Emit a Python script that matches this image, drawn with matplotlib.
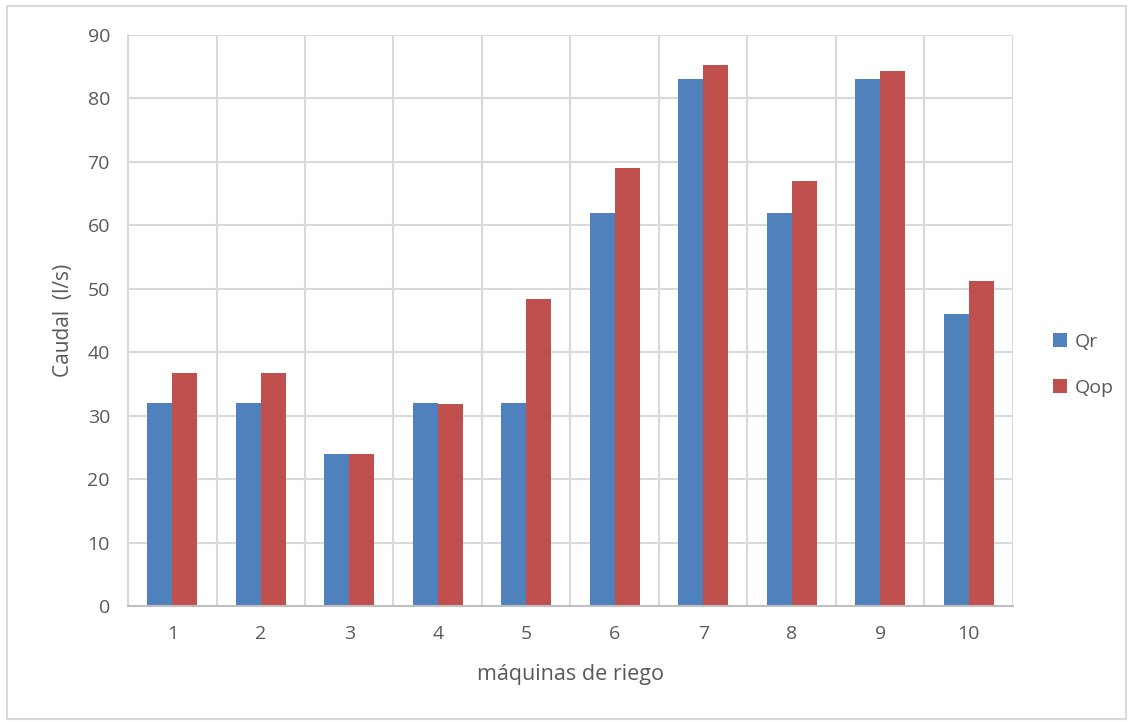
import numpy as np
import matplotlib.pyplot as plt
from matplotlib.patches import Rectangle

plt.rcParams['font.family'] = ['Open Sans', 'DejaVu Sans']

maquinas = ['1', '2', '3', '4', '5', '6', '7', '8', '9', '10']
qr = [32, 32, 24, 32, 32, 62, 83, 62, 83, 46]
qop = [36.7, 36.8, 24, 31.9, 48.4, 69, 85.2, 67, 84.3, 51.3]

blue = '#4F81BD'
red = '#C0504D'
grid_c = '#D9D9D9'
text_c = '#595959'

fig = plt.figure(figsize=(11.33, 7.22), dpi=100)
ax = fig.add_axes([0.113, 0.1607, 0.781, 0.7908])

x = np.arange(len(maquinas))
w = 0.283
ax.bar(x - w / 2, qr, w, color=blue, label='Qr', zorder=3)
ax.bar(x + w / 2, qop, w, color=red, label='Qop', zorder=3)

ax.set_xlim(-0.5, len(maquinas) - 0.5)
ax.set_ylim(0, 90)
ax.set_yticks(np.arange(0, 91, 10))
ax.set_xticks(x)
ax.set_xticklabels(maquinas)

# gridlines: horizontal at ticks, vertical at category boundaries
for yv in np.arange(10, 91, 10):
    ax.axhline(yv, color=grid_c, lw=1.5, zorder=1)
for xv in np.arange(0.5, len(maquinas) - 0.5, 1):
    ax.axvline(xv, color=grid_c, lw=1.5, zorder=1)
ax.axvline(len(maquinas) - 0.5, color=grid_c, lw=1.5, zorder=1)

for s in ['top', 'right']:
    ax.spines[s].set_visible(False)
ax.spines['left'].set_color(grid_c)
ax.spines['left'].set_linewidth(1.5)
ax.spines['bottom'].set_color('#BFBFBF')
ax.spines['bottom'].set_linewidth(1.5)
ax.spines['bottom'].set_zorder(4)

ax.tick_params(axis='both', length=0, labelsize=14, colors=text_c)
ax.tick_params(axis='x', pad=14)
ax.tick_params(axis='y', pad=13)

ax.set_xlabel('máquinas de riego', fontsize=15.5, color=text_c, labelpad=15)
ax.set_ylabel('Caudal  (l/s)', fontsize=15, color=text_c, labelpad=10)

ax.legend(loc='center left', bbox_to_anchor=(1.025, 0.422), frameon=False,
          fontsize=14, labelcolor=text_c, handlelength=0.75, handleheight=0.75,
          handletextpad=0.4, labelspacing=1.45)

# outer chart border
fig.patches.append(Rectangle((0.006, 0.004), 0.988, 0.988, transform=fig.transFigure,
                             fill=False, edgecolor=grid_c, lw=1.5))

fig.savefig('out.png', dpi=100)
